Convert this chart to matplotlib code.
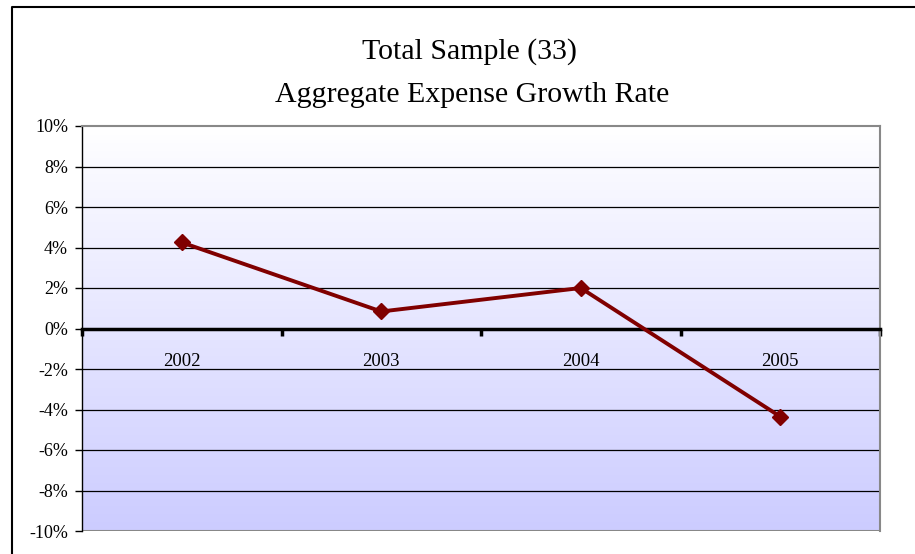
import numpy as np
import matplotlib
matplotlib.use("Agg")
import matplotlib.pyplot as plt
from matplotlib.lines import Line2D

years = ["2002", "2003", "2004", "2005"]
growth = [4.25, 0.84, 2.0, -4.35]
y_ticks = [-10, -8, -6, -4, -2, 0, 2, 4, 6, 8, 10]
y_labels = ["%d%%" % v for v in y_ticks]

plt.rcParams['font.family'] = ['Liberation Serif', 'DejaVu Serif']

W, H = 915, 554
fig = plt.figure(figsize=(W / 100, H / 100), dpi=100)
ax = fig.add_axes([82 / W, (H - 531) / H, 798 / W, 405 / H])

# gradient background, white at top to lavender at bottom
grad = np.linspace(0, 1, 256).reshape(-1, 1)
top = np.array([1.0, 1.0, 1.0])
bot = np.array([204, 204, 255]) / 255.0
img = top + (bot - top) * grad[..., None]
img = img.reshape(256, 1, 3)
ax.imshow(img, extent=[0, 1, 0, 1], transform=ax.transAxes, aspect='auto', zorder=0)

x = np.arange(1, len(years) + 1)
ax.set_xlim(0.5, len(years) + 0.5)
ax.set_ylim(-10, 10)

for v in y_ticks:
    if v in (-10, 0, 10):
        continue
    ax.axhline(v, color='black', lw=0.9, zorder=1)
ax.axhline(-10, color='#888888', lw=1.5, zorder=1)

ax.plot(x, growth, color='#800000', lw=2.8, marker='D', markersize=8.5, zorder=4, clip_on=False)

ax.set_yticks(y_ticks)
ax.set_yticklabels(y_labels, fontsize=13)
ax.tick_params(axis='y', direction='out', length=5, width=1, color='black', pad=5)

ax.spines['bottom'].set_position(('data', 0))
ax.spines['bottom'].set_linewidth(2.5)
ax.spines['bottom'].set_zorder(3)
ax.set_xticks(np.arange(0.5, len(years) + 1, 1))
ax.set_xticklabels([])
ax.tick_params(axis='x', which='major', direction='out', length=5, width=2.5, color='black')
ax.set_xticks(x, minor=True)
ax.set_xticklabels(years, minor=True, fontsize=13.5)
ax.tick_params(axis='x', which='minor', length=0, pad=18)

ax.spines['left'].set_color('black')
ax.spines['left'].set_linewidth(1)
for s in ('top', 'right'):
    ax.spines[s].set_color('#888888')
    ax.spines[s].set_linewidth(1.5)

fig.text(470 / W, 1 - 52 / H, "Total Sample (33)", ha='center', va='center', fontsize=21.5)
fig.text(472 / W, 1 - 95 / H, "Aggregate Expense Growth Rate", ha='center', va='center', fontsize=21.5)

# outer chart border
fig.add_artist(Line2D([12 / W, 12 / W, 1], [0, 1 - 7 / H, 1 - 7 / H],
                      transform=fig.transFigure, color='black', lw=1.5))

fig.savefig("out.png", dpi=100)
